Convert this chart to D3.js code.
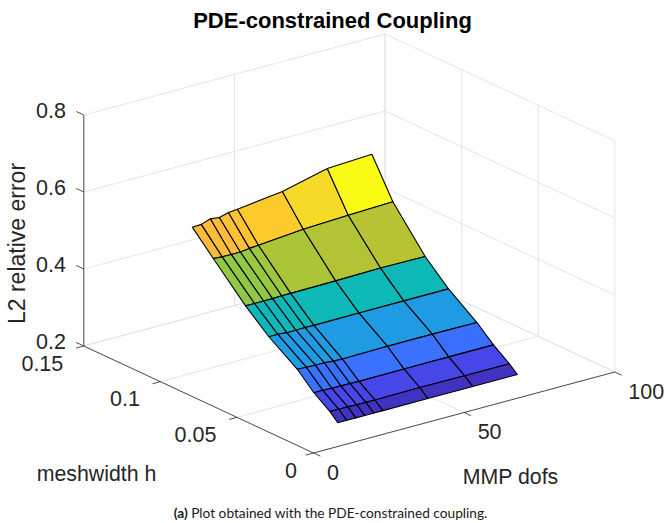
<!DOCTYPE html>
<html>
<head>
<meta charset="utf-8">
<script src="https://cdn.jsdelivr.net/npm/d3@7"></script>
<style>
  html, body { margin: 0; padding: 0; background: #fff; }
  svg { display: block; }
  text { font-family: "Liberation Sans", sans-serif; fill: #262626; }
</style>
</head>
<body>
<svg id="viz" width="666" height="523"></svg>
<script>
// ==== Data ====
const dofs = [10.6, 13.6, 16.6, 19.6, 22.6, 25.6, 40.5, 55.4, 70.2];
const meshwidths = [0.005, 0.0102, 0.0206, 0.0314, 0.05, 0.0652, 0.0863, 0.1];
const errors = [
  [0.247, 0.247, 0.247, 0.247, 0.247, 0.247, 0.247, 0.247, 0.247],
  [0.267, 0.266, 0.266, 0.265, 0.265, 0.265, 0.266, 0.265, 0.265],
  [0.296, 0.296, 0.295, 0.295, 0.295, 0.294, 0.295, 0.295, 0.295],
  [0.337, 0.336, 0.335, 0.335, 0.333, 0.332, 0.334, 0.334, 0.333],
  [0.387, 0.387, 0.385, 0.385, 0.386, 0.385, 0.386, 0.386, 0.386],
  [0.439, 0.439, 0.439, 0.439, 0.44, 0.44, 0.441, 0.443, 0.442],
  [0.523, 0.521, 0.521, 0.521, 0.524, 0.526, 0.536, 0.541, 0.545],
  [0.579, 0.58, 0.588, 0.585, 0.592, 0.594, 0.609, 0.637, 0.643]
];
const xTicks = [0, 50, 100];
const yTicks = [0, 0.05, 0.1, 0.15];
const zTicks = [0.2, 0.4, 0.6, 0.8];
const xTickLabels = ["0", "50", "100"];
const yTickLabels = ["0", "0.05", "0.1", "0.15"];
const zTickLabels = ["0.2", "0.4", "0.6", "0.8"];

// parula, sampled by eye from the figure
const parulaStops = ["#3e26a8", "#4748ee", "#3a71fe", "#1f9be4", "#0cbab4", "#4bc57f", "#99c840", "#c8c02c", "#fcb93c", "#fdcc2c", "#f5da28", "#f9fb15"];
const parulaPos = [0, 0.13, 0.22, 0.35, 0.5, 0.62, 0.7, 0.78, 0.84, 0.914, 0.985, 1];

// ==== Scales ====
const svg = d3.select("#viz");
const color = d3.scaleLinear().domain(parulaPos).range(parulaStops).interpolate(d3.interpolateRgb);
const cNorm = d3.scaleLinear().domain(d3.extent(errors.flat())).range([0, 1]);

// oblique 3d box: one scale per screen component of each data axis
const xToPx = d3.scaleLinear().domain([0, 100]).range([0, 301.3]);
const xToPy = d3.scaleLinear().domain([0, 100]).range([0, -81]);
const yToPx = d3.scaleLinear().domain([0, 0.15]).range([0, -229.7]);
const yToPy = d3.scaleLinear().domain([0, 0.15]).range([0, -107]);
const zToPy = d3.scaleLinear().domain([0.2, 0.8]).range([0, -231]);
const origin = [313, 453];

function project(x, y, z) {
  return [
    origin[0] + xToPx(x) + yToPx(y) + 0.5,
    origin[1] + xToPy(x) + yToPy(y) + zToPy(z)
  ];
}

const line = d3.line();
function seg(g, a, b, stroke, width) {
  g.append("path").attr("d", line([project(...a), project(...b)]))
    .attr("fill", "none").attr("stroke", stroke).attr("stroke-width", width);
}

// ==== Grid on the back walls and floor ====
const gGrid = svg.append("g");
const [x0, x1] = [xTicks[0], xTicks[xTicks.length - 1]];
const [y0, y1] = [yTicks[0], yTicks[yTicks.length - 1]];
const [z0, z1] = [zTicks[0], zTicks[zTicks.length - 1]];
const gridColor = "#e4e4e4";
for (const x of xTicks) {
  seg(gGrid, [x, y1, z0], [x, y1, z1], gridColor, 1);
  seg(gGrid, [x, y0, z0], [x, y1, z0], gridColor, 1);
}
for (const y of yTicks) {
  seg(gGrid, [x1, y, z0], [x1, y, z1], gridColor, 1);
  seg(gGrid, [x0, y, z0], [x1, y, z0], gridColor, 1);
}
for (const z of zTicks) {
  seg(gGrid, [x0, y1, z], [x1, y1, z], gridColor, 1);
  seg(gGrid, [x1, y0, z], [x1, y1, z], gridColor, 1);
}

// ==== Surface, back row first ====
const gSurf = svg.append("g");
for (let i = meshwidths.length - 2; i >= 0; i--) {
  for (let j = 0; j < dofs.length - 1; j++) {
    const quad = [
      project(dofs[j], meshwidths[i], errors[i][j]),
      project(dofs[j + 1], meshwidths[i], errors[i][j + 1]),
      project(dofs[j + 1], meshwidths[i + 1], errors[i + 1][j + 1]),
      project(dofs[j], meshwidths[i + 1], errors[i + 1][j])
    ];
    gSurf.append("path")
      .attr("d", line(quad) + "Z")
      .attr("fill", color(cNorm(errors[i + 1][j + 1])))
      .attr("stroke", "#000")
      .attr("stroke-width", 1.1)
      .attr("stroke-linejoin", "round");
  }
}

// ==== Axes ====
const gAxes = svg.append("g");
const axisColor = "#262626";
seg(gAxes, [x0, y0, z0], [x1, y0, z0], axisColor, 0.8);
seg(gAxes, [x0, y0, z0], [x0, y1, z0], axisColor, 0.8);
seg(gAxes, [x0, y1, z0], [x0, y1, z1], axisColor, 0.8);

// tick marks stick out along the neighbouring axis
xTicks.forEach(x => seg(gAxes, [x, y0, z0], [x, y0 - 0.0045, z0], axisColor, 0.8));
yTicks.forEach(y => seg(gAxes, [x0, y, z0], [x0 - 2.6, y, z0], axisColor, 0.8));
zTicks.forEach(z => seg(gAxes, [x0, y1, z], [x0, y1 + 0.005, z], axisColor, 0.8));

const tickSize = 21.5;
function tickText(sel, str, px, py, anchor) {
  sel.append("text").attr("x", px).attr("y", py)
    .attr("text-anchor", anchor).attr("dominant-baseline", "central")
    .attr("font-size", tickSize).text(str);
}
const gLabels = svg.append("g");
xTicks.forEach((x, i) => {
  const [px, py] = project(x, y0, z0);
  tickText(gLabels, xTickLabels[i], px + 13.5, py + 19.5, "start");
});
yTicks.forEach((y, i) => {
  const [px, py] = project(x0, y, z0);
  tickText(gLabels, yTickLabels[i], px - (y === 0 ? 16.5 : 20.5), py + 17.5, "end");
});
zTicks.forEach((z, i) => {
  const [px, py] = project(x0, y1, z);
  tickText(gLabels, zTickLabels[i], px - 17.8, py - 4.5, "end");
});

// ==== Titles ====
svg.append("text").attr("x", 332.5).attr("y", 20)
  .attr("text-anchor", "middle").attr("dominant-baseline", "central")
  .attr("font-size", 22).attr("font-weight", "bold")
  .style("fill", "#000").text("PDE-constrained Coupling");
svg.append("text").attr("transform", "translate(17,243.5) rotate(-90)")
  .attr("text-anchor", "middle").attr("dominant-baseline", "central")
  .attr("font-size", 23).text("L2 relative error");
svg.append("text").attr("x", 96.5).attr("y", 474)
  .attr("text-anchor", "middle").attr("dominant-baseline", "central")
  .attr("font-size", 21.3).text("meshwidth h");
svg.append("text").attr("x", 510.5).attr("y", 477)
  .attr("text-anchor", "middle").attr("dominant-baseline", "central")
  .attr("font-size", 21.3).text("MMP dofs");

// ==== Caption ====
const caption = svg.append("text").attr("x", 330.5).attr("y", 512)
  .attr("text-anchor", "middle").attr("dominant-baseline", "central")
  .style("font-family", "Lato").style("fill", "#1a1a1a").attr("font-size", 13.7);
caption.append("tspan").attr("font-weight", "bold").text("(a)");
caption.append("tspan").text(" Plot obtained with the PDE-constrained coupling.");
</script>
</body>
</html>
